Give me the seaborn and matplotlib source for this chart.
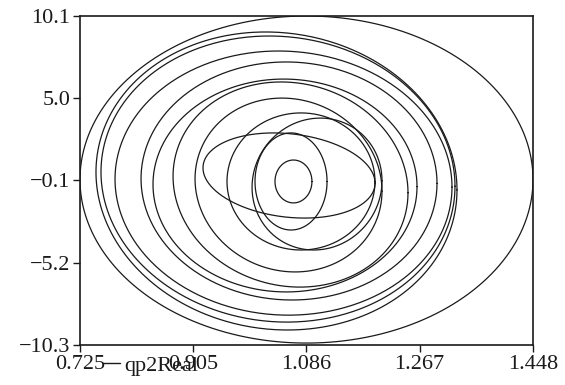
import numpy as np
import pandas as pd
import seaborn as sns
import matplotlib
matplotlib.use("Agg")
import matplotlib.pyplot as plt

# orbit parameters (q1 centre, qp2 centre, half widths, phase tilt)
q1_centre = [1.0865, 1.0386, 1.0410, 1.0498, 1.0586, 1.0522, 1.0610, 1.0578, 1.0777, 1.1033, 1.0586, 1.0618, 1.0657]
qp2_centre = [-0.04, -0.13, -0.01, -0.26, -0.13, -0.41, -0.35, -0.38, -0.16, -0.32, 0.21, -0.16, -0.16]
q1_half = [0.3615, 0.2881, 0.2825, 0.2689, 0.2362, 0.2107, 0.1875, 0.1492, 0.1181, 0.1037, 0.1373, 0.0575, 0.0295]
qp2_half = [10.14, 9.24, 8.87, 8.19, 7.38, 6.60, 6.36, 5.39, 4.25, 4.09, 2.64, 3.01, 1.33]
tilt = [0.0, 0.06, 0.05, 0.03, 0.02, 0.01, 0.08, 0.07, 0.0, -0.05, 0.18, 0.0, 0.0]

x_ticks = [0.725, 0.905, 1.086, 1.267, 1.448]
y_ticks = [10.1, 5.0, -0.1, -5.2, -10.3]
x_ticklabels = ["0.725", "0.905", "1.086", "1.267", "1.448"]
y_ticklabels = ["10.1", "5.0", "\u22120.1", "\u22125.2", "\u221210.3"]

rows = []
t = np.linspace(0, 2 * np.pi, 400)
for k in range(len(q1_centre)):
    x = q1_centre[k] + q1_half[k] * np.cos(t)
    y = qp2_centre[k] + qp2_half[k] * np.sin(t - tilt[k])
    rows.append(pd.DataFrame({"q1": x, "qp2Real": y, "orbit": k, "step": np.arange(len(t))}))
df = pd.concat(rows, ignore_index=True)

sns.set_style("white")
plt.rcParams['font.family'] = ['Liberation Serif', 'DejaVu Serif']

fig = plt.figure(figsize=(5.65, 3.85), dpi=100)
ax = fig.add_axes([80 / 565, 1 - 345 / 385, 453 / 565, 329 / 385])

sns.lineplot(data=df, x="q1", y="qp2Real", units="orbit", estimator=None, sort=False,
             color="#1a1a1a", lw=0.9, ax=ax, legend=False)

ax.set_xlim(0.725, 1.448)
ax.set_ylim(-10.3, 10.1)
ax.set_xticks(x_ticks)
ax.set_xticklabels(x_ticklabels)
ax.set_yticks(y_ticks)
ax.set_yticklabels(y_ticklabels)
ax.set_xlabel("")
ax.set_ylabel("")
ax.tick_params(axis="both", direction="out", length=5, width=1.0, color="#1a1a1a",
               labelsize=16, labelcolor="#1a1a1a", pad=2,
               bottom=True, left=True)
for s in ax.spines.values():
    s.set_color("#1a1a1a")
    s.set_linewidth(1.2)

# legend-like label in the lower left corner (overlaps the 0.905 tick label as in the original)
fig.add_artist(plt.Line2D([103 / 565, 120 / 565], [1 - 363 / 385, 1 - 363 / 385],
                          color="#1a1a1a", lw=1.0))
fig.text(124 / 565, 1 - 371 / 385, "qp2Real", fontsize=16, color="#1a1a1a",
         ha="left", va="baseline")

fig.savefig("out.png", dpi=100)
